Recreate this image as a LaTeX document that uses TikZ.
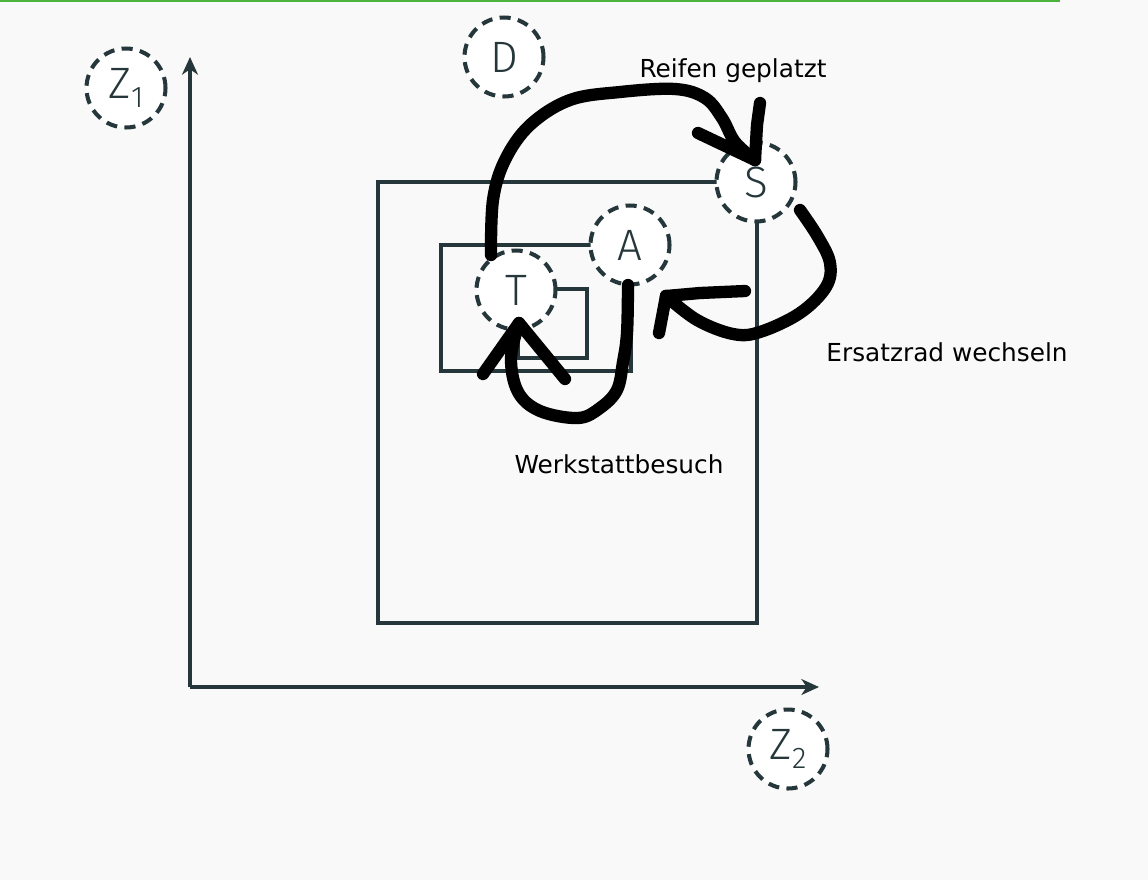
\documentclass[tikz,border=0pt]{standalone}
\usepackage{fontspec}
\setmainfont{DejaVu Sans}
\newfontfamily\circfont{Fira Sans Light}
\usetikzlibrary{arrows.meta}
\definecolor{slate}{HTML}{25373B}
\definecolor{paper}{HTML}{F9F9F9}
\definecolor{topgreen}{HTML}{4DB33D}

\tikzset{
  zone/.style={circle, draw=slate, fill=white, dash pattern=on 6.3pt off 4.2pt,
    line width=2.3pt, minimum size=1.58cm, inner sep=0pt, text=slate,
    font=\circfont\fontsize{25}{25}\selectfont},
  frame/.style={draw=slate, line width=2.2pt},
  axis/.style={frame, -{Stealth[length=10pt, width=9pt, inset=3pt]}},
  scribble/.style={draw=black, line width=7pt, line cap=round, line join=round},
  note/.style={font=\fontsize{14.1}{17}\selectfont, text=black}
}

\begin{document}
\begin{tikzpicture}[x=0.02cm, y=-0.02cm]
    % page:
    \fill[paper] (0,0) rectangle (1148,880);
    \useasboundingbox (0,0) rectangle (1148,880);
    \draw[topgreen, line width=1.3pt] (0,0.6) -- (1060,0.6);
    % axes:
    \coordinate (O) at (190,687);
    \coordinate (ytop) at (190,57);
    \coordinate (xend) at (819,687);
    \draw[axis] (O) -- (ytop);
    \draw[axis] (O) -- (xend);
    % boxes:
    \draw[frame] (378,182) rectangle (757,623);
    \draw[frame] (441,245) rectangle (631,371);
    \draw[frame] (518,289) rectangle (587,358);
    % zones:
    \node[zone] (Z1) at (126,88) {Z\raisebox{-0.4ex}{\fontsize{17}{17}\selectfont 1}};
    \node[zone] (D) at (504,57) {D};
    \node[zone] (S) at (756,182) {S};
    \node[zone] (A) at (630,245) {A};
    \node[zone] (T) at (516,290) {T};
    \node[zone] (Z2) at (788,749) {Z\raisebox{-0.4ex}{\fontsize{17}{17}\selectfont 2}};
    % Reifen geplatzt:
    \coordinate (tipS) at (755,160);
    \draw[scribble] plot[smooth, tension=0.6] coordinates {(491,255) (493,200) (505,160) (530,125) (570,100) (620,92) (675,89) (705,98) (722,118) (735,142) (tipS)};
    \draw[scribble] (698,133) -- (tipS);
    \draw[scribble] (760,103) -- (757,125) -- (tipS);
    % Ersatzrad wechseln:
    \coordinate (tipA) at (666,296);
    \draw[scribble] plot[smooth, tension=0.6] coordinates {(800,210) (818,237) (830,263) (826,287) (800,313) (760,332) (733,334) (697,320) (tipA)};
    \draw[scribble] (745,291) -- (700,293) -- (tipA);
    \draw[scribble] (659,333) -- (tipA);
    % Werkstattbesuch:
    \coordinate (tipT) at (519,323);
    \draw[scribble] plot[smooth, tension=0.6] coordinates {(628,285) (627,333) (623,362) (617,390) (600,408) (578,418) (540,411) (518,392) (511,358) (tipT)};
    \draw[scribble] (483,374) -- (tipT) -- (565,379);
    % labels:
    \node[note] (lReifen) at (733,71) {Reifen geplatzt};
    \node[note] (lErsatz) at (947,352) {Ersatzrad wechseln};
    \node[note] (lWerk) at (619,464) {Werkstattbesuch};
\end{tikzpicture}
\end{document}
